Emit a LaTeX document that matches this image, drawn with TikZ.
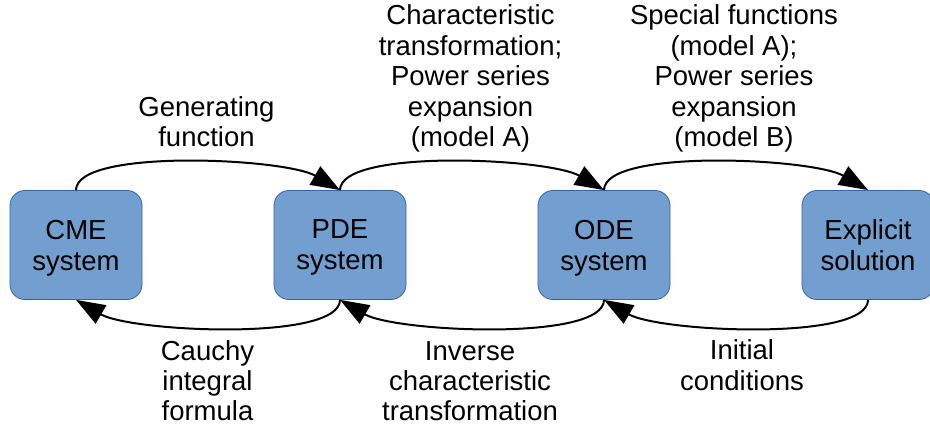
\documentclass[tikz,border=0pt]{standalone}
\usepackage{fontspec}
\setmainfont{Liberation Sans}
\usetikzlibrary{arrows.meta}
\definecolor{boxfill}{HTML}{729FCF}
\definecolor{boxline}{HTML}{3465A4}
\begin{document}
\begin{tikzpicture}[x=1pt,y=-1pt,
  stage/.style={draw=boxline, line width=0.8pt, fill=boxfill, rounded corners=15pt,
    minimum width=132pt, minimum height=109pt, inner sep=0pt, align=center,
    text depth=0pt, font=\fontsize{27.5}{31}\selectfont},
  lab/.style={align=center, inner sep=0pt, anchor=base, font=\fontsize{27.5}{30.5}\selectfont},
  conn/.style={line width=2pt, -{Triangle[length=29pt,width=21pt]}}]
\useasboundingbox (0,0) rectangle (930,430);
\clip (0,0) rectangle (930,430);
\node[stage] (cme) at (76,245) {CME\\system};
\node[stage] (pde) at (340,245) {PDE\\system};
\node[stage] (ode) at (604,245) {ODE\\system};
\node[stage] (exp) at (868,245) {Explicit\\solution};
\draw[conn] (cme.north) .. controls +(0,-42) and +(-55,-32) .. (pde.north);
\draw[conn] (pde.north) .. controls +(0,-42) and +(-55,-32) .. (ode.north);
\draw[conn] (ode.north) .. controls +(0,-42) and +(-55,-32) .. (exp.north);
\draw[conn] (pde.south) .. controls +(0,42) and +(55,32) .. (cme.south);
\draw[conn] (ode.south) .. controls +(0,42) and +(55,32) .. (pde.south);
\draw[conn] (exp.south) .. controls +(0,42) and +(55,32) .. (ode.south);
\node[lab] (l1) at (206.5,147) {Generating\\function};
\node[lab] (l2) at (470.5,147) {Characteristic\\transformation;\\Power series\\expansion\\(model A)};
\node[lab] (l3) at (734,147) {Special functions\\(model A);\\Power series\\expansion\\(model B)};
\node[lab] (l4) at (207.5,421) {Cauchy\\integral\\formula};
\node[lab] (l5) at (470,421) {Inverse\\characteristic\\transformation};
\node[lab] (l6) at (742,390.5) {Initial\\conditions};
\end{tikzpicture}
\end{document}
